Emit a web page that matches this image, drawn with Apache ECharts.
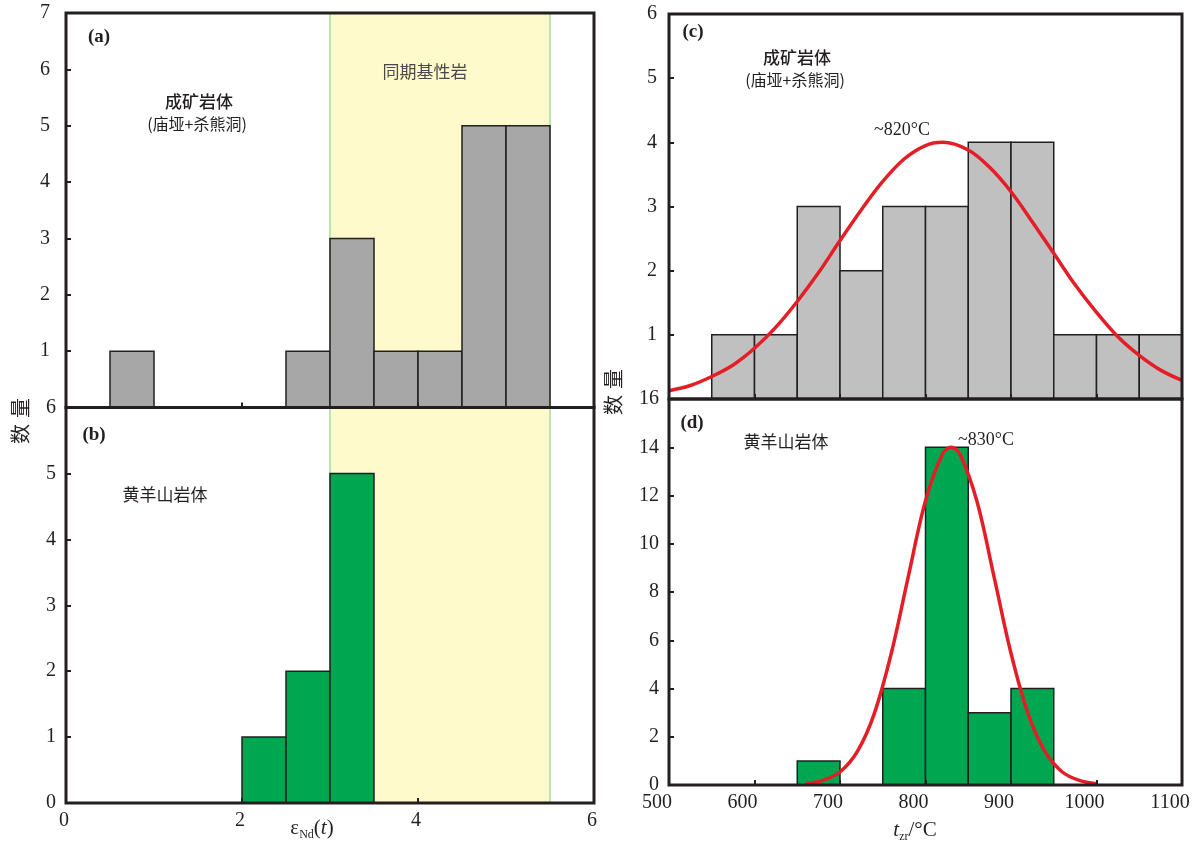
<!DOCTYPE html>
<html>
<head>
<meta charset="utf-8">
<script src="https://cdn.jsdelivr.net/npm/echarts@6/dist/echarts.min.js"></script>
<style>
  html, body { margin: 0; padding: 0; background: #ffffff; }
  #chart { width: 1199px; height: 846px; }
</style>
</head>
<body>
<div id="chart"></div>
<script>
// ---- εNd(t) histograms (bin start, count), bin width 0.5 ----
const ndBinsA = [0.5, 2.5, 3.0, 3.5, 4.0, 4.5, 5.0];
const ndCountsA = [1, 1, 3, 1, 1, 5, 5];
const ndBinsB = [2.0, 2.5, 3.0];
const ndCountsB = [1, 2, 5];
const ndBinWidth = 0.5;
// εNd(t) range of the contemporaneous mafic rocks
const maficRange = [3.0, 5.5];

// ---- zircon saturation temperature histograms, bin width 50 °C ----
const tBinsC = [550, 600, 650, 700, 750, 800, 850, 900, 950, 1000, 1050];
const tCountsC = [1, 1, 3, 2, 3, 3, 4, 4, 1, 1, 1];
const tBinsD = [650, 750, 800, 850, 900];
const tCountsD = [1, 4, 14, 3, 4];
const tBinWidth = 50;

// ---- fitted normal curves ----
const curveXC = [500, 525, 550, 575, 600, 625, 650, 675, 700, 725, 750, 775, 800, 820,
                 850, 875, 900, 925, 950, 975, 1000, 1025, 1050, 1075, 1100];
const curveYC = [0.13, 0.21, 0.35, 0.53, 0.79, 1.12, 1.52, 1.97, 2.47, 2.95, 3.39, 3.74, 3.95, 4.00,
                 3.88, 3.61, 3.23, 2.76, 2.27, 1.78, 1.35, 0.97, 0.68, 0.45, 0.29];
const curveXD = [660, 680, 700, 720, 740, 760, 780, 800, 820, 830, 840, 860, 880, 900, 920, 940, 960, 980, 1000];
const curveYD = [0.05, 0.19, 0.54, 1.37, 2.95, 5.46, 8.66, 11.78, 13.73, 14.00, 13.73, 11.78, 8.66, 5.46, 2.95, 1.37, 0.54, 0.19, 0.05];

// ---- tick labels ----
const ndTickLabels = [0, 2, 4, 6];
const tTickLabels = [500, 600, 700, 800, 900, 1000, 1100];
const yTicksA = [1, 2, 3, 4, 5, 6, 7];
const yTicksB = [0, 1, 2, 3, 4, 5, 6];
const yTicksC = [1, 2, 3, 4, 5, 6];
const yTicksD = [0, 2, 4, 6, 8, 10, 12, 14, 16];

const INK = '#231f20';
const SERIF = '"Liberation Serif", "DejaVu Serif", serif';
const CJK = '"Noto Sans CJK SC", sans-serif';

const chart = echarts.init(document.getElementById('chart'), null, { renderer: 'canvas' });

function pairs(xs, ys) { return xs.map((x, i) => [x, ys[i]]); }

function histogram(width, fill) {
  return function (params, api) {
    const x0 = api.value(0);
    const h = api.value(1);
    const p0 = api.coord([x0, h]);
    const p1 = api.coord([x0 + width, 0]);
    return {
      type: 'rect',
      shape: { x: p0[0], y: p0[1], width: p1[0] - p0[0], height: p1[1] - p0[1] },
      style: { fill: fill, stroke: INK, lineWidth: 1.5 }
    };
  };
}

function band(params, api) {
  const cs = params.coordSys;
  const xl = api.coord([api.value(0), 0])[0];
  const xr = api.coord([api.value(1), 0])[0];
  return {
    type: 'group',
    children: [
      { type: 'rect', shape: { x: xl, y: cs.y, width: xr - xl, height: cs.height },
        style: { fill: '#fffacb' } },
      { type: 'line', shape: { x1: xl, y1: cs.y, x2: xl, y2: cs.y + cs.height },
        style: { stroke: '#a6dca0', lineWidth: 1.5 } },
      { type: 'line', shape: { x1: xr, y1: cs.y, x2: xr, y2: cs.y + cs.height },
        style: { stroke: '#a6dca0', lineWidth: 1.5 } }
    ]
  };
}

function grid(left, top, width, height) {
  return { left, top, width, height, show: true, borderColor: INK, borderWidth: 3,
           backgroundColor: 'transparent', z: 10, containLabel: false, outerBoundsMode: 'none' };
}

function listFormatter(list) {
  return v => (list.indexOf(Math.round(v * 1000) / 1000) >= 0 ? String(v) : '');
}

const tickStyle = { show: true, inside: true, length: 5, lineStyle: { color: INK, width: 2 } };
const labelStyle = { fontFamily: SERIF, fontSize: 20, color: INK };

function xAxis(gi, min, max, interval, labels, padRight) {
  return {
    type: 'value', gridIndex: gi, min, max, interval, z: 10,
    axisLine: { show: false }, splitLine: { show: false },
    axisTick: tickStyle,
    axisLabel: Object.assign({
      show: !!labels, margin: 8, showMinLabel: true, showMaxLabel: true,
      hideOverlap: false, padding: [0, padRight || 0, 0, 0],
      formatter: labels ? listFormatter(labels) : ''
    }, labelStyle)
  };
}

function yAxis(gi, min, max, interval, labels, margin) {
  return {
    type: 'value', gridIndex: gi, min, max, interval, z: 10,
    axisLine: { show: false }, splitLine: { show: false },
    axisTick: tickStyle,
    axisLabel: Object.assign({
      margin: margin, showMinLabel: true, showMaxLabel: true, hideOverlap: false,
      formatter: listFormatter(labels)
    }, labelStyle)
  };
}

function txt(x, y, text, opt) {
  return {
    type: 'text', x, y, z: 20,
    style: Object.assign({ text, align: 'center', verticalAlign: 'middle',
                           fill: INK, font: '17px ' + CJK }, opt || {})
  };
}

const richAxis = {
  e: { fontFamily: SERIF, fontSize: 21, color: INK, lineHeight: 26 },
  n: { fontFamily: SERIF, fontSize: 21, color: INK, lineHeight: 26 },
  i: { fontFamily: SERIF, fontSize: 21, fontStyle: 'italic', color: INK, lineHeight: 26 },
  s: { fontFamily: SERIF, fontSize: 12, color: INK, lineHeight: 12, verticalAlign: 'bottom' }
};
const richName = {
  a: { fontFamily: CJK, fontSize: 20, color: INK, padding: [0, 6, 0, 0] },
  b: { fontFamily: CJK, fontSize: 20, color: INK }
};

// vertical "数量" titles, reading bottom to top
function yTitle(x, y) {
  const t = txt(x, y, '{a|数}{b|量}', { rich: richName });
  t.rotation = Math.PI / 2;
  return t;
}

const option = {
  backgroundColor: '#ffffff',
  animation: false,
  grid: [
    grid(66, 13, 528, 394.5),
    grid(66, 407.5, 528, 395.5),
    grid(669, 14, 513, 385),
    grid(669, 399, 513, 386)
  ],
  xAxis: [
    xAxis(0, 0, 6, 2, null),
    xAxis(1, 0, 6, 2, ndTickLabels, 4),
    xAxis(2, 500, 1100, 100, null),
    xAxis(3, 500, 1100, 100, tTickLabels, 24)
  ],
  yAxis: [
    yAxis(0, 0, 7, 1, yTicksA, 16),
    yAxis(1, 0, 6, 1, yTicksB, 10),
    yAxis(2, 0, 6, 1, yTicksC, 12),
    yAxis(3, 0, 16, 2, yTicksD, 10)
  ],
  series: [
    { type: 'custom', xAxisIndex: 0, yAxisIndex: 0, z: 1, silent: true,
      renderItem: band, data: [maficRange], encode: { x: [0, 1] } },
    { type: 'custom', xAxisIndex: 1, yAxisIndex: 1, z: 1, silent: true,
      renderItem: band, data: [maficRange], encode: { x: [0, 1] } },
    { type: 'custom', name: 'a', xAxisIndex: 0, yAxisIndex: 0, z: 3,
      renderItem: histogram(ndBinWidth, '#a7a7a7'), data: pairs(ndBinsA, ndCountsA), encode: { x: 0, y: 1 } },
    { type: 'custom', name: 'b', xAxisIndex: 1, yAxisIndex: 1, z: 3,
      renderItem: histogram(ndBinWidth, '#00a650'), data: pairs(ndBinsB, ndCountsB), encode: { x: 0, y: 1 } },
    { type: 'custom', name: 'c', xAxisIndex: 2, yAxisIndex: 2, z: 3,
      renderItem: histogram(tBinWidth, '#c0c0c0'), data: pairs(tBinsC, tCountsC), encode: { x: 0, y: 1 } },
    { type: 'custom', name: 'd', xAxisIndex: 3, yAxisIndex: 3, z: 3,
      renderItem: histogram(tBinWidth, '#00a650'), data: pairs(tBinsD, tCountsD), encode: { x: 0, y: 1 } },
    { type: 'line', xAxisIndex: 2, yAxisIndex: 2, z: 5, data: pairs(curveXC, curveYC),
      showSymbol: false, smooth: 0.35, clip: true, silent: true,
      lineStyle: { color: '#e41e26', width: 3.5 } },
    { type: 'line', xAxisIndex: 3, yAxisIndex: 3, z: 5, data: pairs(curveXD, curveYD),
      showSymbol: false, smooth: 0.35, clip: true, silent: true,
      lineStyle: { color: '#e41e26', width: 3.5 } }
  ],
  graphic: [
    // panel (a)
    txt(99, 37, '(a)', { font: 'bold 19px ' + SERIF }),
    txt(199, 102, '成矿岩体', { font: '500 17px ' + CJK }),
    txt(197, 124, '(庙垭+杀熊洞)', { font: '16px ' + CJK }),
    txt(425, 72, '同期基性岩', { font: '17px ' + CJK, fill: '#4a4a4a' }),
    // panel (b)
    txt(94, 435, '(b)', { font: 'bold 19px ' + SERIF }),
    txt(165, 495, '黄羊山岩体', { font: '17px ' + CJK }),
    // panel (c)
    txt(693, 32, '(c)', { font: 'bold 19px ' + SERIF }),
    txt(797, 58, '成矿岩体', { font: '500 17px ' + CJK }),
    txt(795, 80, '(庙垭+杀熊洞)', { font: '16px ' + CJK }),
    txt(902, 130, '~820°C', { font: '18px ' + SERIF }),
    // panel (d)
    txt(692, 423, '(d)', { font: 'bold 19px ' + SERIF }),
    txt(786, 442, '黄羊山岩体', { font: '17px ' + CJK }),
    txt(986, 440, '~830°C', { font: '18px ' + SERIF }),
    // axis names
    txt(312, 828, '{e|ε}{s|Nd}{n|(}{i|t}{n|)}', { rich: richAxis }),
    txt(915, 830, '{i|t}{s|zr}{n|/°C}', { rich: richAxis }),
    yTitle(20, 421),
    yTitle(613, 392)
  ]
};

chart.setOption(option);
</script>
</body>
</html>
